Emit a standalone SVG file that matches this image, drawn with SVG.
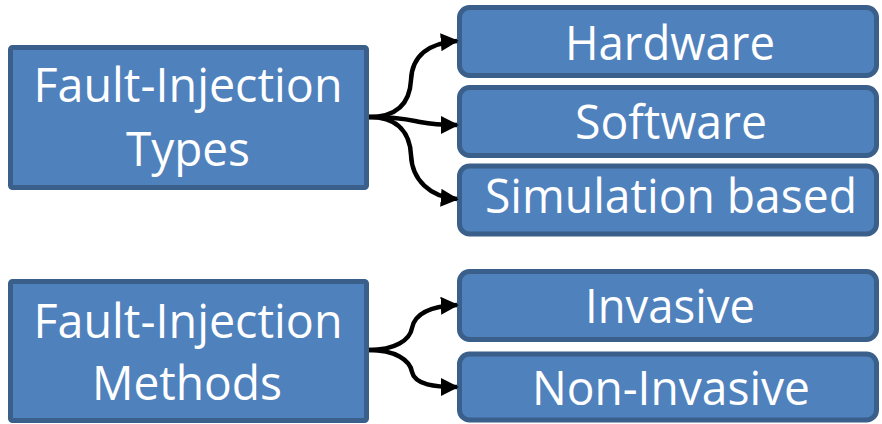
<svg xmlns="http://www.w3.org/2000/svg" width="882" height="424" viewBox="0 0 882 424">
<style>
.box{fill:#4f81bd;stroke:#3a5f8b;stroke-width:5}
.t{font-family:"Open Sans","Noto Sans",sans-serif;font-size:48px;fill:#fff;text-anchor:middle}
.c{fill:none;stroke:#000;stroke-width:4.5;marker-end:url(#ah)}
</style>
<defs>
<marker id="ah" viewBox="0 0 10 10" refX="9" refY="5" markerWidth="4" markerHeight="4" orient="auto" markerUnits="strokeWidth">
<path d="M0,0 L10,5 L0,10 z" fill="#000"/>
</marker>
</defs>
<rect width="882" height="424" fill="#fff"/>
<g id="types">
<rect class="box" x="10.5" y="47.5" width="356" height="140" rx="2"/>
<text class="t" x="188" y="102" textLength="309" lengthAdjust="spacingAndGlyphs">Fault-Injection</text>
<text class="t" x="188" y="166" textLength="124" lengthAdjust="spacingAndGlyphs">Types</text>
</g>
<g id="hardware">
<rect class="box" x="459.5" y="7.5" width="417" height="68" rx="10"/>
<text class="t" x="670" y="60" textLength="210" lengthAdjust="spacingAndGlyphs">Hardware</text>
</g>
<g id="software">
<rect class="box" x="459.5" y="87.5" width="417" height="68" rx="10"/>
<text class="t" x="671" y="139" textLength="192" lengthAdjust="spacingAndGlyphs">Software</text>
</g>
<g id="simulation">
<rect class="box" x="459.5" y="166" width="417" height="68" rx="10"/>
<text class="t" x="671" y="213" textLength="372" lengthAdjust="spacingAndGlyphs">Simulation based</text>
</g>
<g id="methods">
<rect class="box" x="10.5" y="281.5" width="356" height="139" rx="2"/>
<text class="t" x="188" y="338" textLength="309" lengthAdjust="spacingAndGlyphs">Fault-Injection</text>
<text class="t" x="187" y="400" textLength="190" lengthAdjust="spacingAndGlyphs">Methods</text>
</g>
<g id="invasive">
<rect class="box" x="459.5" y="271.5" width="417" height="68" rx="10"/>
<text class="t" x="670" y="323" textLength="170" lengthAdjust="spacingAndGlyphs">Invasive</text>
</g>
<g id="noninvasive">
<rect class="box" x="459.5" y="354" width="417" height="66" rx="10"/>
<text class="t" x="671" y="405" textLength="278" lengthAdjust="spacingAndGlyphs">Non-Invasive</text>
</g>
<g id="connectors">
<path class="c" d="M369,117 C400,117 410,100 411,80 C412,55 430,43 457,41"/>
<path class="c" d="M369,117 C400,117 410,120 420,122 C435,125 445,125 457,125"/>
<path class="c" d="M369,117 C400,117 410,135 411,155 C412,180 430,197 457,199"/>
<path class="c" d="M369,350 C395,350 410,340 412,328 C415,312 435,306 457,305"/>
<path class="c" d="M369,350 C395,350 410,360 412,372 C415,385 435,387 457,387"/>
</g>
</svg>
